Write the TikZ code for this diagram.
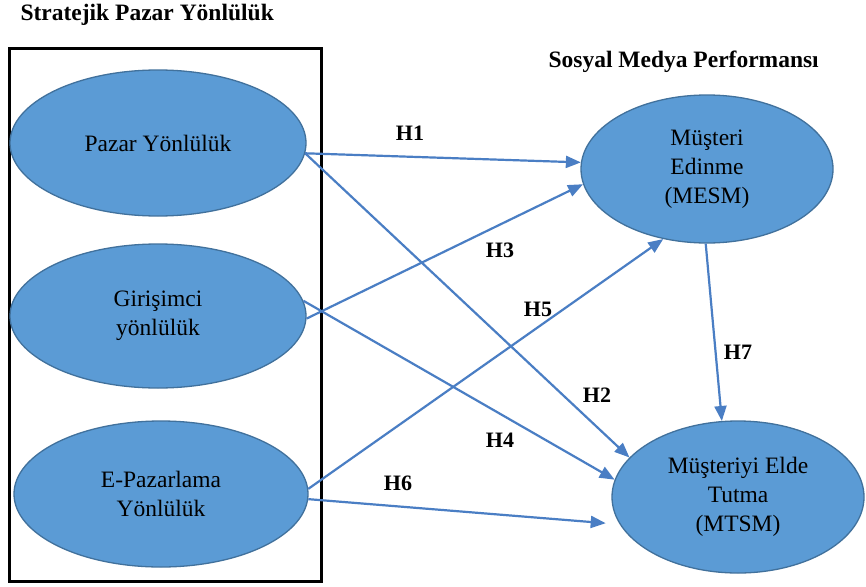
\documentclass[tikz,border=0pt]{standalone}
\usepackage{fontspec}
\setmainfont{Liberation Serif}
\usetikzlibrary{shapes.geometric,arrows.meta}
\definecolor{ellfill}{HTML}{5B9BD5}
\definecolor{elldraw}{HTML}{41719C}
\definecolor{arr}{HTML}{4A7EC4}
\tikzset{
  oval/.style={ellipse, fill=ellfill, draw=elldraw, line width=1.3pt, inner sep=0pt, align=center, font=\fontsize{23.5}{29}\selectfont},
  conn/.style={draw=arr, line width=2.2pt, -{Triangle[length=15pt,width=12pt]}},
  hlab/.style={font=\bfseries\fontsize{22}{24}\selectfont},
  ttl/.style={font=\bfseries\fontsize{23.5}{26}\selectfont, anchor=west}
}
\begin{document}
\begin{tikzpicture}[x=1pt,y=-1pt]
\useasboundingbox (0,0) rectangle (866,586);
\fill[white] (0,0) rectangle (866,586);
\node[ttl] (t1) at (17,15) {Stratejik Pazar Yönlülük};
\node[ttl] (t2) at (545,62) {Sosyal Medya Performansı};
\draw[line width=3pt] (9,49) rectangle (321,581);
\node[oval, minimum width=296pt, minimum height=146pt] (pz) at (158,143) {Pazar Yönlülük};
\node[oval, minimum width=296pt, minimum height=144pt] (gi) at (158,316) {Girişimci\\yönlülük};
\node[oval, minimum width=294pt, minimum height=146pt] (ep) at (161,494) {E-Pazarlama\\Yönlülük};
\node[oval, minimum width=252pt, minimum height=148pt] (me) at (707,169) {Müşteri\\Edinme\\(MESM)};
\node[oval, minimum width=252pt, minimum height=152pt] (mt) at (738,497) {Müşteriyi Elde\\Tutma\\(MTSM)};
\draw[conn] (pz.-4) -- (me.177);
\draw[conn] (pz.-4) -- (mt.160);
\draw[conn] (gi.-1) -- (me.187);
\draw[conn] (gi.6) -- (mt.172);
\draw[conn] (ep.2) -- (me.238);
\draw[conn, shorten >=14pt] (ep.-2) -- (mt.193);
\draw[conn] (me.269) -- (mt.102);
\node[hlab] (h1) at (410,133) {H1};
\node[hlab] (h3) at (500,250) {H3};
\node[hlab] (h5) at (538,309) {H5};
\node[hlab] (h7) at (738,352) {H7};
\node[hlab] (h2) at (597,395) {H2};
\node[hlab] (h4) at (500,440) {H4};
\node[hlab] (h6) at (398,483) {H6};
\end{tikzpicture}
\end{document}
